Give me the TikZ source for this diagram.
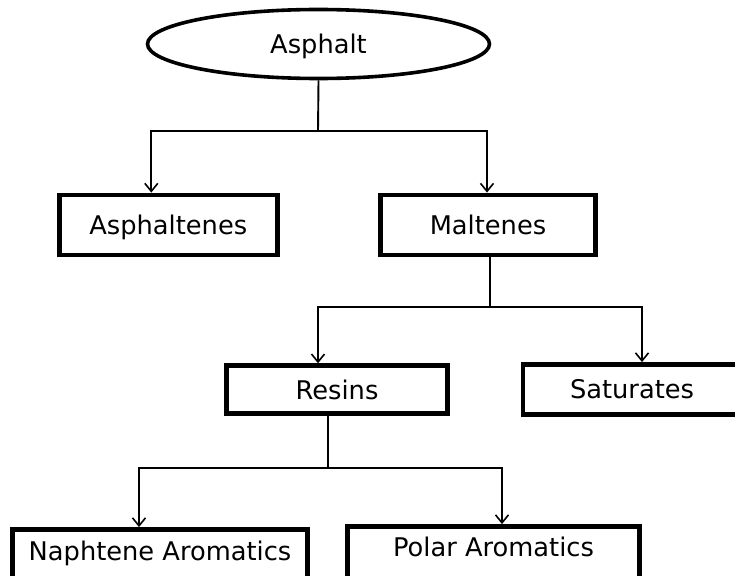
\documentclass[tikz,border=0pt]{standalone}
\usepackage{fontspec}
\setmainfont{DejaVu Sans}
\usetikzlibrary{shapes.geometric,arrows.meta}
\begin{document}
\begin{tikzpicture}[x=1pt,y=-1pt,
  txt/.style={font=\fontsize{25.7}{29}\selectfont},
  box/.style={draw,line width=4.8pt,rectangle,inner sep=0pt,txt},
  conn/.style={line width=1.9pt},
  arr/.style={conn,-{Straight Barb[length=8pt,width=13pt,line width=1.6pt]}}]
\useasboundingbox (0,0) rectangle (735,575);
\node[draw,ellipse,line width=3.6pt,minimum width=342pt,minimum height=69pt,inner sep=0pt,
  label={[txt,yshift=-2.5pt]center:Asphalt}] (asphalt) at (318.5,44) {};
\node[box,minimum width=218pt,minimum height=60pt,text depth=0pt] (asphaltenes) at (168.3,225) {Asphaltenes};
\node[box,minimum width=215pt,minimum height=60pt,text depth=0pt] (maltenes) at (488,225) {Maltenes};
\node[box,minimum width=221pt,minimum height=48pt] (resins) at (337,389.7) {Resins};
\node[box,minimum width=218pt,minimum height=50pt] (saturates) at (632,389.5) {Saturates};
\node[box,minimum width=295pt,minimum height=53pt,text depth=10pt] (naphtene) at (160,556) {Naphtene Aromatics};
\node[box,minimum width=292pt,minimum height=53pt,text depth=12pt] (polar) at (493.5,553) {Polar Aromatics};
% level 1
\coordinate (j1) at (318,131);
\draw[conn] (asphalt.south) -- (j1);
\draw[arr] (j1) -| ([xshift=-17pt]asphaltenes.north);
\draw[arr] (j1) -| ([xshift=-1pt]maltenes.north);
% level 2
\coordinate (j2) at (490,307);
\draw[conn] ([xshift=2pt]maltenes.south) -- (j2);
\draw[arr] (j2) -| ([xshift=-19pt]resins.north);
\draw[arr] (j2) -| ([xshift=10pt]saturates.north);
% level 3
\coordinate (j3) at (328,468);
\draw[conn] ([xshift=-9pt]resins.south) -- (j3);
\draw[arr] (j3) -| ([xshift=-21pt]naphtene.north);
\draw[arr] (j3) -| ([xshift=8.5pt]polar.north);
\end{tikzpicture}
\end{document}
